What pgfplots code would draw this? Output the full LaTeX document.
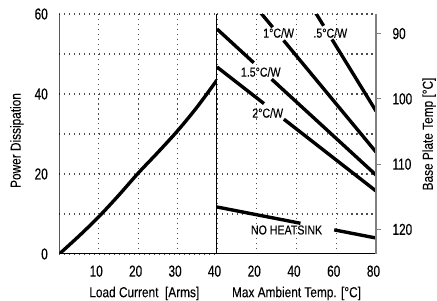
\documentclass[border=0pt]{standalone}
\usepackage{fontspec}
\setmainfont{Liberation Sans}[FakeStretch=0.82, FakeBold=0.12]
\newfontfamily\tickfont{Liberation Sans}[FakeStretch=0.74, FakeBold=0.25]
\usepackage{pgfplots}
\pgfplotsset{compat=1.18}
\tikzset{
  mygrid/.style={dash pattern=on 1.1pt off 3.9pt, line width=1.1pt, black!70},
  curve/.style={black, line width=3.4pt},
  lbl/.style={font=\fontsize{13}{14}\selectfont, inner sep=0pt},
}
\begin{document}
\begin{tikzpicture}
\path[use as bounding box] (0bp,0bp) rectangle (437bp,301bp);
\pgfplotsset{
  every axis/.append style={scale only axis, height=240bp, anchor=south west,
    /pgf/number format/assume math mode=true,
    tick label style={font=\tickfont\fontsize{16}{17}\selectfont},
    label style={font=\fontsize{14.5}{16}\selectfont},
  },
}
% ---------------- left: power vs load current
\begin{axis}[at={(59.3bp,47bp)}, width=157.7bp,
  xmin=0, xmax=40, ymin=0, ymax=60,
  axis line style={draw=none},
  xtick={10,20,30,40}, ytick={0,20,40,60}, minor ytick={10,30,50},
  major tick length=0pt, minor tick length=0pt,
  grid=both, major grid style={mygrid}, minor grid style={mygrid},
  xticklabel style={xshift=-2.5bp, yshift=-8bp},
  yticklabel style={anchor=east, xshift=-8bp},
  xlabel={Load Current~~[Arms]},
  xlabel style={at={(axis description cs:0.539,-0.18)}, anchor=base},
  ylabel={Power Dissipation},
  ylabel style={at={(axis description cs:-0.245,0.473)}, anchor=base},
]
\addplot[curve, no marks, smooth] coordinates {
 (0,0) (5,4.5) (10,9.3) (15,14.6) (20,20.2) (25,25.4) (30,30.8) (35,36.8) (40,43.5)};
\draw[line width=1.3pt] (rel axis cs:0,1) -- (rel axis cs:0,0) -- (rel axis cs:1,0);
\draw[line width=1.5pt] (rel axis cs:1,0) -- (rel axis cs:1,1);
\end{axis}
% ---------------- right: derating vs ambient temperature
\begin{axis}[at={(217bp,47bp)}, width=159bp,
  xmin=0, xmax=80, ymin=0, ymax=60,
  axis line style={draw=none},
  xtick={20,40,60,80}, ytick={10,20,30,40,50,60}, yticklabels={},
  major tick length=0pt,
  grid=major, major grid style={mygrid},
  xticklabel style={xshift=-2.5bp, yshift=-8bp},
  xlabel={Max Ambient Temp. [°C]},
  xlabel style={at={(axis description cs:0.5,-0.18)}, anchor=base},
]
\addplot[curve, no marks] coordinates {(0,56.25) (18.5,47.81)};
\addplot[curve, no marks] coordinates {(27.5,43.70) (80,19.75)};
\addplot[curve, no marks] coordinates {(20,61.5) (28,56.7)};
\addplot[curve, no marks] coordinates {(33.5,53.4) (80,25.5)};
\addplot[curve, no marks] coordinates {(48.14,61.5) (53.65,57.05)};
\addplot[curve, no marks] coordinates {(57.85,53.66) (80,35.75)};
\addplot[curve, no marks] coordinates {(0,46.75) (23.65,37.6)};
\addplot[curve, no marks] coordinates {(33.65,33.7) (80,15.75)};
\addplot[curve, no marks] coordinates {(0,11.75) (42,7.68)};
\addplot[curve, no marks] coordinates {(59,6.03) (80,4)};
\node[lbl] at (axis cs:31,55.25) {1°C/W};
\node[lbl] at (axis cs:57,55.25) {.5°C/W};
\node[lbl] at (axis cs:22,45.5) {1.5°C/W};
\node[lbl] at (axis cs:25.5,35.25) {2°C/W};
\node[lbl] at (axis cs:35,6) {NO HEATSINK};
\draw[line width=1.3pt] (rel axis cs:0,0) -- (rel axis cs:1,0);
\end{axis}
% ---------------- right scale: base plate temperature
\begin{axis}[at={(217bp,47bp)}, width=159bp,
  xmin=0, xmax=80, ymin=87, ymax=123.76, y dir=reverse,
  axis x line=none, axis y line*=right,
  axis line style={black!50, line width=1.5pt},
  ytick={90,100,110,120},
  tick align=outside, major tick length=5bp,
  major tick style={black!50, line width=1pt},
  yticklabel style={anchor=west, xshift=8bp},
  ylabel={Base Plate Temp [°C]},
  ylabel style={at={(axis description cs:1.357,0.5)}, anchor=base},
]
\addplot[draw=none] coordinates {(0,90) (80,120)};
\end{axis}
\end{tikzpicture}
\end{document}
